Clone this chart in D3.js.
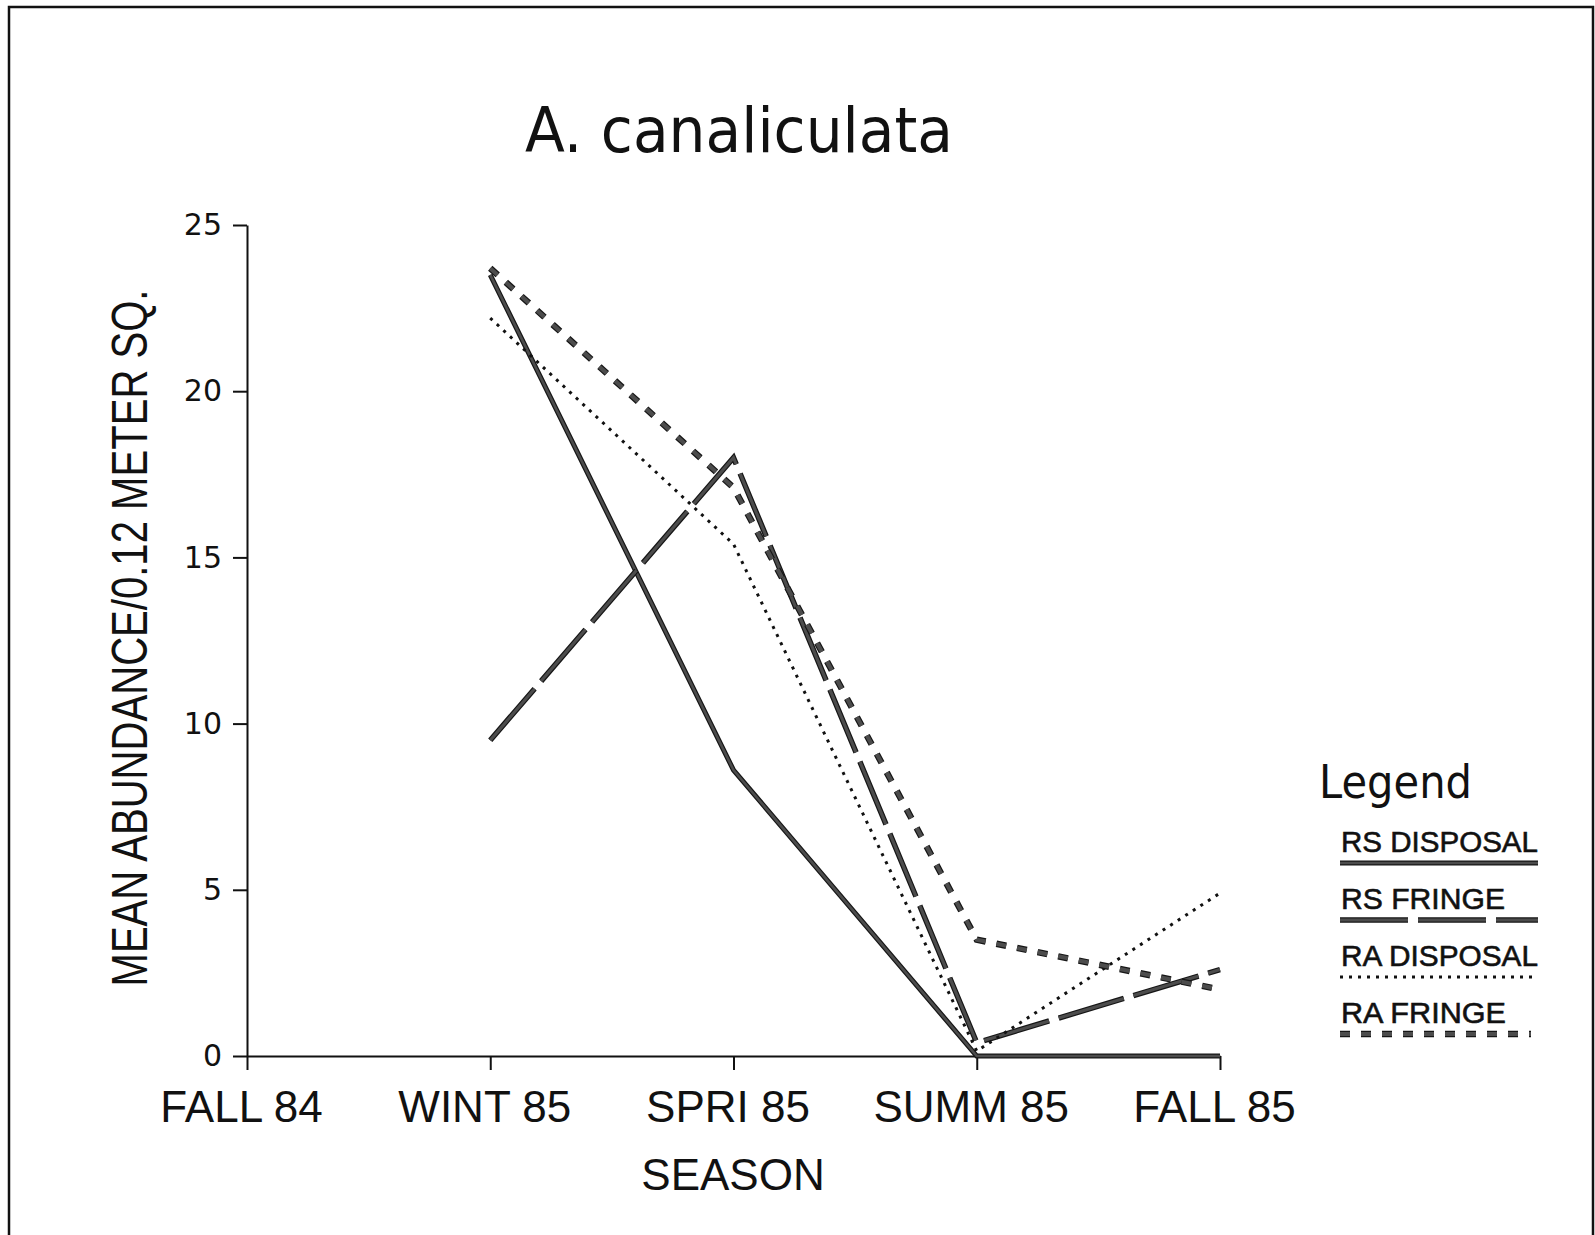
<!DOCTYPE html>
<html><head><meta charset="utf-8">
<script src="https://cdn.jsdelivr.net/npm/d3@7/dist/d3.min.js"></script>
<style>body{margin:0;background:#fff}</style>
</head><body>
<svg id="c" width="1595" height="1235"></svg>
<script>
// ---- data ----
const seasons = ["FALL 84", "WINT 85", "SPRI 85", "SUMM 85", "FALL 85"];
const yTickValues = [0, 5, 10, 15, 20, 25];
const rsDisposal = [null, 23.5, 8.6, 0, 0];
const rsFringe = [null, 9.5, 18.0, 0.4, 2.6];
const raDisposal = [null, 22.2, 15.4, 0.15, 4.9];
const raFringe = [null, 23.7, 17.1, 3.5, 2.0];
const seriesNames = ["RS DISPOSAL", "RS FRINGE", "RA DISPOSAL", "RA FRINGE"];
const titleText = "A. canaliculata";
const xTitle = "SEASON";
const yTitle = "MEAN ABUNDANCE/0.12 METER SQ.";
const legendTitle = "Legend";

// ---- styles ----
const styles = [
  {stroke: "#4c4c4c", edge: "#161616", width: 5, dash: null},
  {stroke: "#4c4c4c", edge: "#161616", width: 5.5, dash: "68,10"},
  {stroke: null, edge: "#111", width: 3, dash: "3,6"},
  {stroke: "#4c4c4c", edge: "#161616", width: 6.5, dash: "10,11"}
];
const seriesData = [rsDisposal, rsFringe, raDisposal, raFringe];

const svg = d3.select("#c");
svg.append("rect").attr("width", 1595).attr("height", 1235).attr("fill", "#fff");
// frame
svg.append("path").attr("d", "M9,1240 V7 H1593 V1240").attr("fill", "none")
  .attr("stroke", "#111").attr("stroke-width", 2.5);

const x = d3.scalePoint().domain(seasons).range([247, 1220]).padding(0);
const y = d3.scaleLinear().domain([0, 25]).range([1056, 225]);

// title
svg.append("text").attr("x", 739).attr("y", 152).attr("text-anchor", "middle")
  .attr("font-family", "DejaVu Sans, sans-serif").attr("font-size", 62)
  .attr("textLength", 428).attr("lengthAdjust", "spacingAndGlyphs")
  .attr("fill", "#111").text(titleText);

// y axis
const gy = svg.append("g").attr("transform", "translate(247,0)")
  .call(d3.axisLeft(y).tickValues(yTickValues).tickSize(14).tickSizeOuter(0).tickPadding(11).tickFormat(d3.format("d")));
gy.select(".domain").attr("stroke", "#111").attr("stroke-width", 2);
gy.selectAll(".tick line").attr("stroke", "#111").attr("stroke-width", 2);
gy.selectAll(".tick text").attr("font-family", "DejaVu Sans, sans-serif").attr("font-size", 30).attr("fill", "#111");

// x axis
const gx = svg.append("g").attr("transform", "translate(0,1056)")
  .call(d3.axisBottom(x).tickSize(14).tickSizeOuter(0).tickPadding(21));
gx.select(".domain").attr("stroke", "#111").attr("stroke-width", 2);
gx.selectAll(".tick line").attr("stroke", "#111").attr("stroke-width", 2);
gx.selectAll(".tick text").attr("font-family", "Liberation Sans, Arial, sans-serif")
  .attr("font-size", 44).attr("fill", "#111").attr("dx", -6);

// axis titles
svg.append("text").attr("x", 733).attr("y", 1190).attr("text-anchor", "middle")
  .attr("font-family", "Liberation Sans, Arial, sans-serif").attr("font-size", 44)
  .attr("fill", "#111").text(xTitle);
svg.append("text").attr("transform", "translate(147,638) rotate(-90)")
  .attr("text-anchor", "middle")
  .attr("font-family", "Liberation Sans, Arial, sans-serif").attr("font-size", 50)
  .attr("textLength", 697).attr("lengthAdjust", "spacingAndGlyphs")
  .attr("fill", "#111").text(yTitle);

// lines
const line = d3.line()
  .defined(d => d != null)
  .x((d, i) => x(seasons[i]))
  .y(d => y(d));
seriesData.forEach((s, k) => {
  const st = styles[k];
  svg.append("path").datum(s).attr("d", line)
    .attr("fill", "none").attr("stroke", st.edge).attr("stroke-width", st.width)
    .attr("stroke-dasharray", st.dash).attr("stroke-linejoin", "miter");
  if (st.stroke) {
    svg.append("path").datum(s).attr("d", line)
      .attr("fill", "none").attr("stroke", st.stroke).attr("stroke-width", st.width - 2.4)
      .attr("stroke-dasharray", st.dash).attr("stroke-linejoin", "miter");
  }
});

// legend
svg.append("text").attr("x", 1319).attr("y", 798)
  .attr("font-family", "DejaVu Sans, sans-serif").attr("font-size", 46)
  .attr("textLength", 153).attr("lengthAdjust", "spacingAndGlyphs")
  .attr("fill", "#111").text(legendTitle);
const legY = d3.scalePoint().domain(seriesNames).range([852, 1023]);
const legLineEnd = [1538, 1538, 1538, 1531];
const legTextLen = [197, 164, 197, 165];
seriesNames.forEach((n, k) => {
  const st = styles[k];
  svg.append("text").attr("x", 1341).attr("y", legY(n))
    .attr("font-family", "Liberation Sans, Arial, sans-serif").attr("font-size", 30)
    .attr("textLength", legTextLen[k]).attr("lengthAdjust", "spacingAndGlyphs")
    .attr("fill", "#111").attr("stroke", "#111").attr("stroke-width", 0.6).text(n);
  svg.append("line").attr("x1", 1340).attr("x2", legLineEnd[k])
    .attr("y1", legY(n) + 11).attr("y2", legY(n) + 11)
    .attr("stroke", st.edge).attr("stroke-width", st.width)
    .attr("stroke-dasharray", st.dash);
  if (st.stroke) {
    svg.append("line").attr("x1", 1340).attr("x2", legLineEnd[k])
      .attr("y1", legY(n) + 11).attr("y2", legY(n) + 11)
      .attr("stroke", st.stroke).attr("stroke-width", st.width - 2.4)
      .attr("stroke-dasharray", st.dash);
  }
});
</script>
</body></html>
